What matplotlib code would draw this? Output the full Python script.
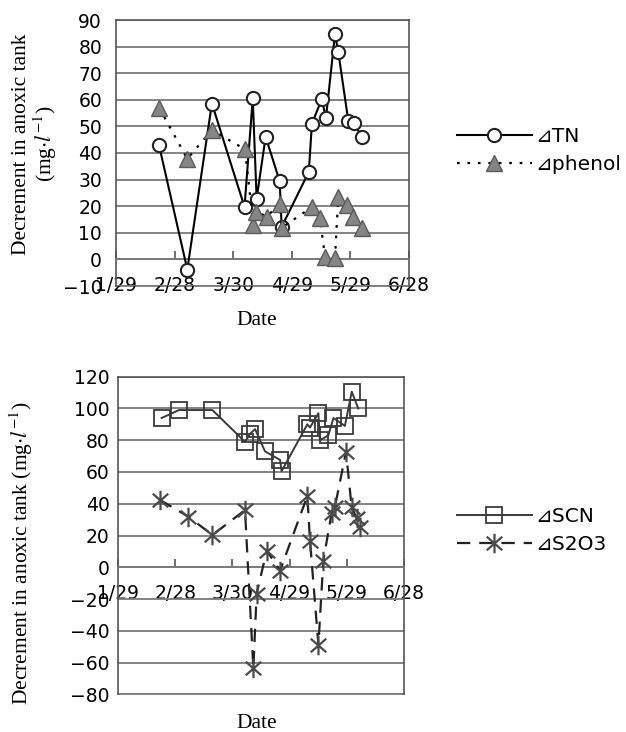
import matplotlib
matplotlib.use("Agg")
import matplotlib.pyplot as plt
from matplotlib.path import Path

# ---------------- data (days since 1/29) ----------------
tick_days = [0, 30, 60, 90, 120, 150]
tick_labels = ['1/29', '2/28', '3/30', '4/29', '5/29', '6/28']

tn_days = [22.0, 36.5, 49.1, 65.8, 70.0, 72.0, 76.6, 83.8, 84.8, 98.7, 100.3,
           105.3, 107.5, 112.1, 113.8, 118.9, 121.8, 125.9]
tn_vals = [43.0, -3.8, 58.6, 19.7, 60.5, 22.8, 46.1, 29.4, 12.2, 32.9, 51.0,
           60.2, 53.2, 84.7, 78.0, 52.2, 51.2, 46.0]

phenol_days = [22.1, 36.5, 49.1, 66.0, 70.3, 71.7, 77.1, 84.0, 84.8, 100.2,
               104.4, 107.0, 112.1, 113.8, 118.1, 121.5, 125.8]
phenol_vals = [57.0, 37.8, 48.6, 41.4, 13.0, 18.0, 16.1, 20.8, 11.9, 19.6,
               15.5, 1.0, 0.4, 23.6, 20.5, 16.1, 11.9]

scn_days = [22.9, 32.0, 49.5, 66.6, 69.2, 71.9, 77.1, 85.0, 85.8, 99.3, 100.7,
            105.1, 105.9, 110.3, 113.0, 119.0, 122.6, 126.0]
scn_vals = [94, 99, 99, 79, 84, 87, 73, 67.6, 60.5, 90, 88, 97, 80, 83, 94, 89,
            110.6, 100]

s2o3_days = [22.0, 36.9, 49.5, 66.6, 71.0, 72.7, 78.0, 85.0, 99.3, 100.7,
             105.1, 107.7, 112.0, 113.8, 119.6, 122.5, 125.1, 126.9]
s2o3_vals = [42.4, 31.9, 20.3, 36.0, -63.6, -16.8, 10.5, -2.1, 44.9, 16.8,
             -48.9, 4.2, 34.0, 38.2, 72.8, 38.2, 30.8, 25.6]

# ---------------- styling ----------------
plt.rcParams['mathtext.fontset'] = 'stix'
SANS = ['DejaVu Sans']
SERIF = ['Liberation Serif', 'DejaVu Serif']
TICK_FS = 13.5
LAB_FS = 15.5
LEG_FS = 14.5
GRID_C = '#7a7a7a'

star = Path([(0, -1), (0, 1), (-0.8, -0.7), (0.8, 0.7), (-0.8, 0.7), (0.8, -0.7)],
            [Path.MOVETO, Path.LINETO, Path.MOVETO, Path.LINETO, Path.MOVETO, Path.LINETO])

fig = plt.figure(figsize=(6.26, 7.32), dpi=100)
ax1 = fig.add_axes([116/626, 1-286/732, 293/626, 266/732])
ax2 = fig.add_axes([118/626, 1-694.3/732, 286/626, 317.6/732])


def style_axes(ax, ylim, ystep):
    ax.set_xlim(tick_days[0], tick_days[-1])
    ax.set_ylim(*ylim)
    ax.set_yticks(range(ylim[0], ylim[1] + 1, ystep))
    ax.set_xticks(tick_days)
    ax.set_xticklabels(tick_labels)
    ax.yaxis.grid(True, color=GRID_C, lw=1.3)
    ax.set_axisbelow(True)
    for s in ['left', 'right', 'top', 'bottom']:
        ax.spines[s].set_color('#555555')
        ax.spines[s].set_linewidth(1.2)
    # bottom frame line of the plot area (at the lower y limit)
    ax.axhline(ylim[0], color=GRID_C, lw=1.3, clip_on=False, zorder=0.5)
    ax.spines['bottom'].set_position(('data', 0))
    ax.spines['bottom'].set_color(GRID_C)
    ax.spines['bottom'].set_linewidth(1.3)
    ax.tick_params(axis='x', direction='in', length=6, width=1.2, color='#555555',
                   pad=12, labelsize=TICK_FS)
    ax.tick_params(axis='y', length=0, labelsize=TICK_FS)
    for t in ax.get_xticklabels() + ax.get_yticklabels():
        t.set_family(SANS)


style_axes(ax1, (-10, 90), 10)
ax1.tick_params(axis='y', pad=10)
style_axes(ax2, (-80, 120), 20)
ax2.tick_params(axis='y', pad=6)

# top chart
ax1.plot(tn_days, tn_vals, color='black', lw=1.5, marker='o', ms=9.5,
         mfc='white', mec='#222222', mew=1.5, label='⊿TN', zorder=3)
ax1.plot(phenol_days, phenol_vals, color='black', lw=1.6, ls=(0, (1.2, 3.5)),
         marker='^', ms=11, mfc='#858585', mec='#5a5a5a', mew=1.0,
         label='⊿phenol', zorder=4)

# bottom chart
ax2.plot(scn_days, scn_vals, color='#3a3a3a', lw=1.4, marker='s', ms=11.5,
         mfc='none', mec='#3a3a3a', mew=1.3, label='⊿SCN', zorder=3)
ax2.plot(s2o3_days, s2o3_vals, color='#222222', lw=1.6, ls=(0, (6, 4)),
         marker=star, ms=14, mec='#4a4a4a', mew=1.6, label='⊿S2O3', zorder=4)

# labels
unit = r'(mg$\cdot$$\mathit{l}^{-1}$)'
ax1.set_ylabel('Decrement in anoxic tank\n' + unit, family=SERIF,
               fontsize=LAB_FS, ha='center', va='center', linespacing=1.0)
ax1.yaxis.set_label_coords(-0.275, 0.534)
ax1.set_xlabel('Date', family=SERIF, fontsize=LAB_FS, va='center')
ax1.xaxis.set_label_coords(0.481, -0.128)

ax2.set_ylabel('Decrement in anoxic tank ' + unit, family=SERIF,
               fontsize=LAB_FS, ha='center', va='center')
ax2.yaxis.set_label_coords(-0.34, 0.445)
ax2.set_xlabel('Date', family=SERIF, fontsize=LAB_FS, va='center')
ax2.xaxis.set_label_coords(0.486, -0.0935)

leg_kw = dict(frameon=False, borderpad=0, borderaxespad=0, handlelength=3.7,
              handletextpad=0.2, labelspacing=0.45,
              prop={'family': SANS, 'size': LEG_FS})
fig.legend(*ax1.get_legend_handles_labels(), loc='upper left',
           bbox_to_anchor=(457/626, 1-127/732), **leg_kw)
fig.legend(*ax2.get_legend_handles_labels(), loc='upper left',
           bbox_to_anchor=(457/626, 1-507/732), **leg_kw)

fig.savefig('out.png', dpi=100)
